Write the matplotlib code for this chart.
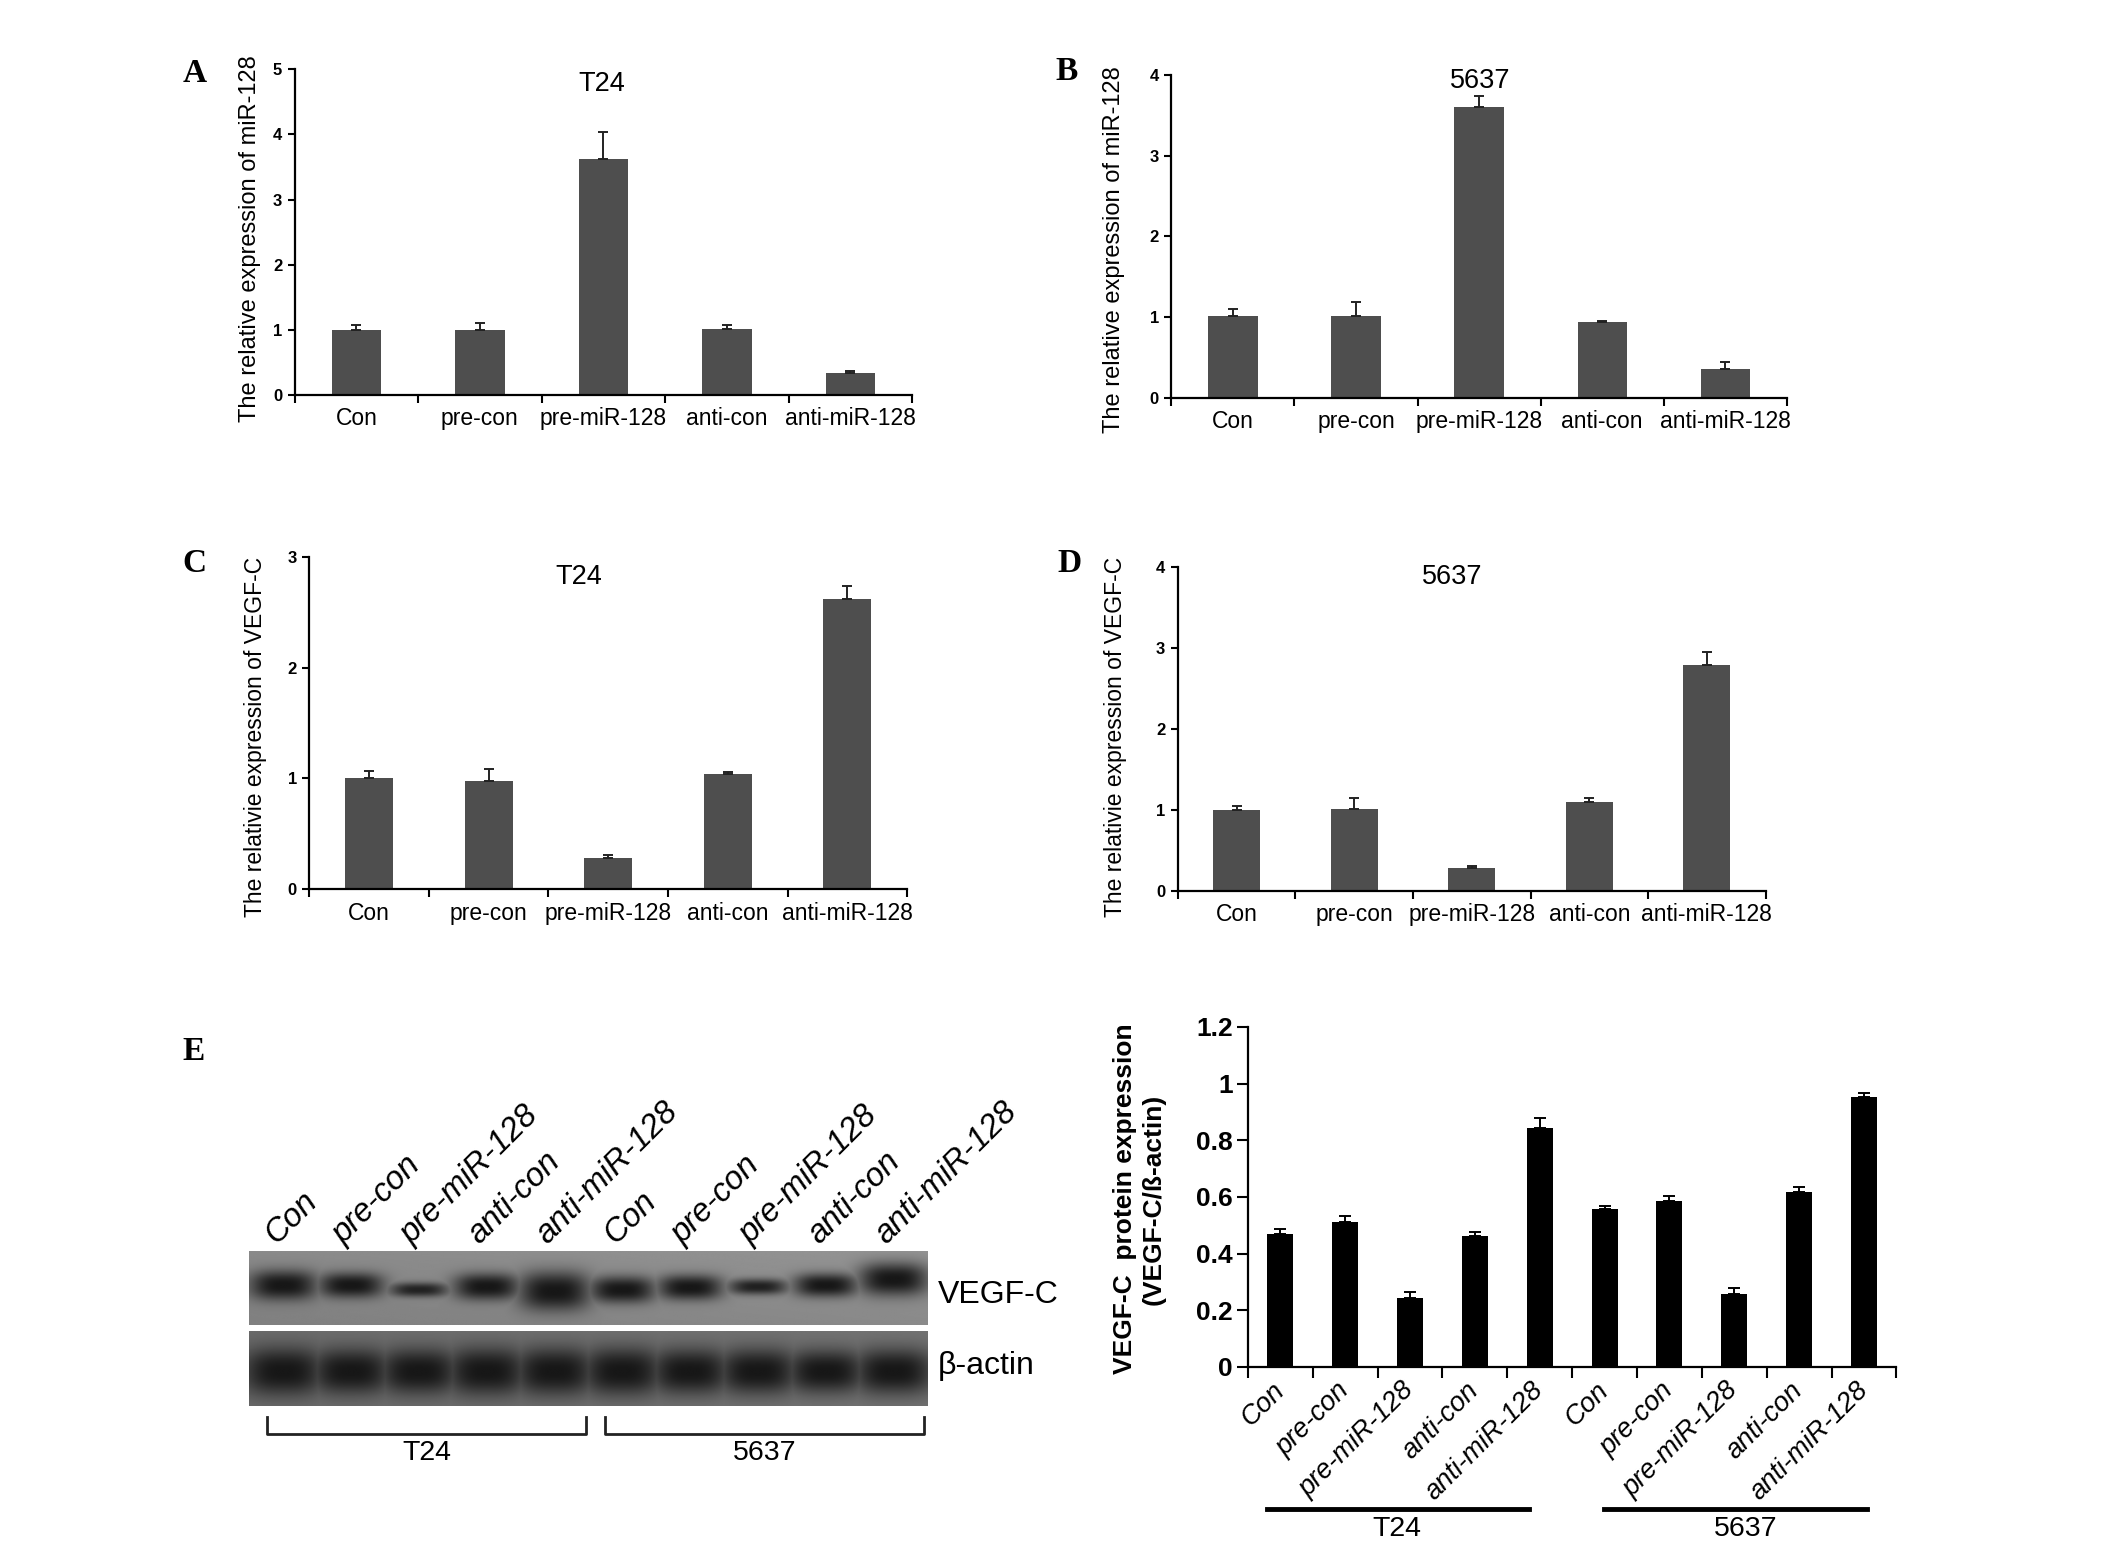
import numpy as np
import matplotlib
matplotlib.use('Agg')
import matplotlib.pyplot as plt
from matplotlib.lines import Line2D

plt.rcParams['font.family'] = ['Liberation Sans', 'DejaVu Sans']

# ---------------- data ----------------
groups = ['Con', 'pre-con', 'pre-miR-128', 'anti-con', 'anti-miR-128']
cell_lines = ['T24', '5637']

mir_t24 = [1.00, 1.00, 3.62, 1.02, 0.33]
mir_t24_err = [0.07, 0.10, 0.41, 0.05, 0.04]
mir_5637 = [1.01, 1.01, 3.60, 0.94, 0.36]
mir_5637_err = [0.09, 0.18, 0.14, 0.01, 0.08]

vegf_t24 = [1.00, 0.98, 0.28, 1.04, 2.62]
vegf_t24_err = [0.07, 0.10, 0.03, 0.02, 0.12]
vegf_5637 = [0.99, 1.01, 0.28, 1.09, 2.78]
vegf_5637_err = [0.05, 0.13, 0.02, 0.05, 0.17]

prot_t24 = [0.469, 0.511, 0.242, 0.462, 0.843]
prot_t24_err = [0.018, 0.022, 0.022, 0.014, 0.036]
prot_5637 = [0.557, 0.587, 0.257, 0.619, 0.954]
prot_5637_err = [0.012, 0.015, 0.020, 0.016, 0.011]

# western blot band strengths (relative)
band_vegf = [0.95, 0.80, 0.45, 0.85, 1.25, 0.85, 0.80, 0.50, 0.75, 1.05]
band_actin = [1.00, 0.95, 0.95, 1.00, 1.00, 1.00, 0.95, 0.95, 0.90, 0.95]
blot_rows = ['VEGF-C', 'β-actin']

# style-only per-lane vertical offsets of the VEGF-C band
vegf_shift = [0.0, 0.0, 0.06, 0.02, 0.08, 0.06, 0.03, 0.02, 0.0, -0.08]

fig = plt.figure(figsize=(21.26, 15.49), dpi=100)

BAR_GRAY = '#4e4e4e'


def style_axes(ax, lw=1.6):
    for s in ['top', 'right']:
        ax.spines[s].set_visible(False)
    for s in ['left', 'bottom']:
        ax.spines[s].set_linewidth(lw)
        ax.spines[s].set_color('black')


def qpcr(rect, vals, errs, ymax, title, title_xy, letter, letter_xy,
         ylabel, ylabel_xy, ylabel_size):
    ax = fig.add_axes(rect)
    n = len(groups)
    x = np.arange(n)
    ax.bar(x, vals, width=0.4, color=BAR_GRAY, zorder=2)
    ax.errorbar(x, vals, yerr=[np.zeros(n), errs], fmt='none',
                ecolor='#222222', elinewidth=1.4, capsize=3.5,
                capthick=1.4, zorder=3)
    ax.set_xlim(-0.5, n - 0.5)
    ax.set_ylim(0, ymax)
    ax.set_yticks(range(ymax + 1))
    ax.set_yticklabels([str(v) for v in range(ymax + 1)],
                       fontsize=12, fontweight='bold')
    ax.set_xticks(np.arange(-0.5, n, 1.0))
    ax.set_xticklabels([])
    ax.set_xticks(x, minor=True)
    ax.set_xticklabels(groups, minor=True, fontsize=16.5)
    ax.tick_params(axis='x', which='minor', length=0, pad=9)
    ax.tick_params(axis='x', which='major', length=6, width=1.5,
                   direction='out')
    ax.tick_params(axis='y', length=5, width=1.5, direction='out', pad=4)
    style_axes(ax)
    fig.text(title_xy[0], title_xy[1], title, fontsize=19.5,
             ha='center', va='center')
    fig.text(letter_xy[0], letter_xy[1], letter, fontsize=24,
             family='Liberation Serif', fontweight='bold',
             ha='center', va='center')
    fig.text(ylabel_xy[0], ylabel_xy[1], ylabel, fontsize=ylabel_size,
             rotation=90, ha='center', va='center')
    return ax


qpcr([0.1386, 0.745, 0.429 - 0.1386, 0.9553 - 0.745], mir_t24, mir_t24_err,
     5, cell_lines[0], (0.283, 0.946), 'A', (0.0916, 0.9527),
     'The relative expression of miR-128', (0.1176, 0.846), 17)
qpcr([0.551, 0.7433, 0.8404 - 0.551, 0.9516 - 0.7433], mir_5637,
     mir_5637_err, 4, cell_lines[1], (0.6964, 0.948), 'B', (0.5016, 0.9537),
     'The relative expression of miR-128', (0.524, 0.839), 17)
qpcr([0.1455, 0.426, 0.4267 - 0.1455, 0.6406 - 0.426], vegf_t24,
     vegf_t24_err, 3, cell_lines[0], (0.272, 0.6277), 'C', (0.0916, 0.6364),
     'The relativie expression of VEGF-C', (0.12, 0.524), 16.5)
qpcr([0.554, 0.425, 0.8305 - 0.554, 0.6342 - 0.425], vegf_5637,
     vegf_5637_err, 4, cell_lines[1], (0.683, 0.6277), 'D', (0.503, 0.6364),
     'The relativie expression of VEGF-C', (0.5245, 0.524), 16.5)

# ---------------- panel E: western blot ----------------
fig.text(0.091, 0.321, 'E', fontsize=24, family='Liberation Serif',
         fontweight='bold', ha='center', va='center')

blot_left, blot_right = 0.117, 0.436
strips = [(0.1446, 0.1925), (0.0923, 0.1407)]


def blot_strip(rect, intens, bg_l, bg_r, yc, sy_base, shift, tilt,
               width_scale, py_pow):
    ax = fig.add_axes(rect)
    ax.set_axis_off()
    H, W = 160, 700
    yy = np.linspace(0, 1, H)[:, None]
    xx = np.linspace(0, 1, W)[None, :]
    bg = bg_l + (bg_r - bg_l) * xx + tilt * (yy - 0.5)
    dark = np.zeros((H, W))
    n = len(intens)
    for i, a in enumerate(intens):
        xc = (i + 0.5) / n
        hw = width_scale / n * (0.72 + 0.25 * min(a, 1.2))
        px = np.exp(-(np.abs(xx - xc) / hw) ** 3)
        sy = sy_base * a
        py = np.exp(-(np.abs(yy - (yc + shift[i])) / sy) ** py_pow)
        dark = np.maximum(dark, min(1.0, 0.72 + 0.4 * a) * px * py)
    img = bg * (1 - dark) + 0.09 * dark
    ax.imshow(img, cmap='gray', vmin=0, vmax=1, aspect='auto',
              extent=[0, 1, 0, 1], interpolation='bilinear')
    return ax


blot_strip([blot_left, strips[0][0], blot_right - blot_left,
            strips[0][1] - strips[0][0]], band_vegf, 0.52, 0.56, 0.47,
           0.21, vegf_shift, -0.04, 0.52, 2.4)
blot_strip([blot_left, strips[1][0], blot_right - blot_left,
            strips[1][1] - strips[1][0]], band_actin, 0.42, 0.45, 0.54,
           0.32, [0.0] * 10, 0.0, 0.62, 2.4)

lane_w = (blot_right - blot_left) / len(band_vegf)
lane_labels = groups * 2
for i, lab in enumerate(lane_labels):
    fig.text(blot_left + (i + 0.5) * lane_w - 0.003, strips[0][1] + 0.004,
             lab, fontsize=23.5, style='italic', rotation=45,
             rotation_mode='anchor', ha='left', va='baseline')

fig.text(0.441, 0.164, blot_rows[0], fontsize=23, ha='left', va='center')
fig.text(0.441, 0.118, blot_rows[1], fontsize=23, ha='left', va='center')

for (x0, x1), name in zip([(0.1255, 0.2757), (0.2846, 0.4346)], cell_lines):
    fig.add_artist(Line2D([x0, x0, x1, x1], [0.085, 0.0742, 0.0742, 0.085],
                          transform=fig.transFigure, color='#222222', lw=2))
    fig.text((x0 + x1) / 2, 0.062, name, fontsize=20.5, ha='center',
             va='center')

# ---------------- panel E: quantification ----------------
axE = fig.add_axes([0.587, 0.1175, 0.892 - 0.587, 0.3371 - 0.1175])
valsE = prot_t24 + prot_5637
errsE = prot_t24_err + prot_5637_err
nE = len(valsE)
xE = np.arange(nE)
axE.bar(xE, valsE, width=0.4, color='black', zorder=2)
axE.errorbar(xE, valsE, yerr=[np.zeros(nE), errsE], fmt='none',
             ecolor='black', elinewidth=1.4, capsize=4, capthick=1.4,
             zorder=3)
axE.set_xlim(-0.5, nE - 0.5)
axE.set_ylim(0, 1.2)
yt = [0, 0.2, 0.4, 0.6, 0.8, 1.0, 1.2]
axE.set_yticks(yt)
axE.set_yticklabels(['0', '0.2', '0.4', '0.6', '0.8', '1', '1.2'],
                    fontsize=19, fontweight='bold')
axE.set_xticks(np.arange(-0.5, nE, 1.0))
axE.set_xticklabels([])
axE.set_xticks(xE, minor=True)
axE.set_xticklabels(lane_labels, minor=True, fontsize=19.5, style='italic',
                    rotation=45, ha='right', va='center',
                    rotation_mode='anchor')
axE.tick_params(axis='x', which='minor', length=0, pad=14)
axE.tick_params(axis='x', which='major', length=8, width=1.5,
                direction='out')
axE.tick_params(axis='y', length=8, width=1.5, direction='out', pad=3)
style_axes(axE)

fig.text(0.536, 0.226, 'VEGF-C  protein expression\n(VEGF-C/ß-actin)',
         fontsize=19, fontweight='bold', rotation=90, ha='center',
         va='center', multialignment='center', linespacing=1.25)

for (x0, x1), name, tx in zip([(0.596, 0.719), (0.7545, 0.878)], cell_lines,
                              [0.657, 0.821]):
    fig.add_artist(Line2D([x0, x1], [0.0258, 0.0258],
                          transform=fig.transFigure, color='black', lw=3.5))
    fig.text(tx, 0.013, name, fontsize=20.5, ha='center', va='center')

fig.savefig('out.png', dpi=100, facecolor='white')
